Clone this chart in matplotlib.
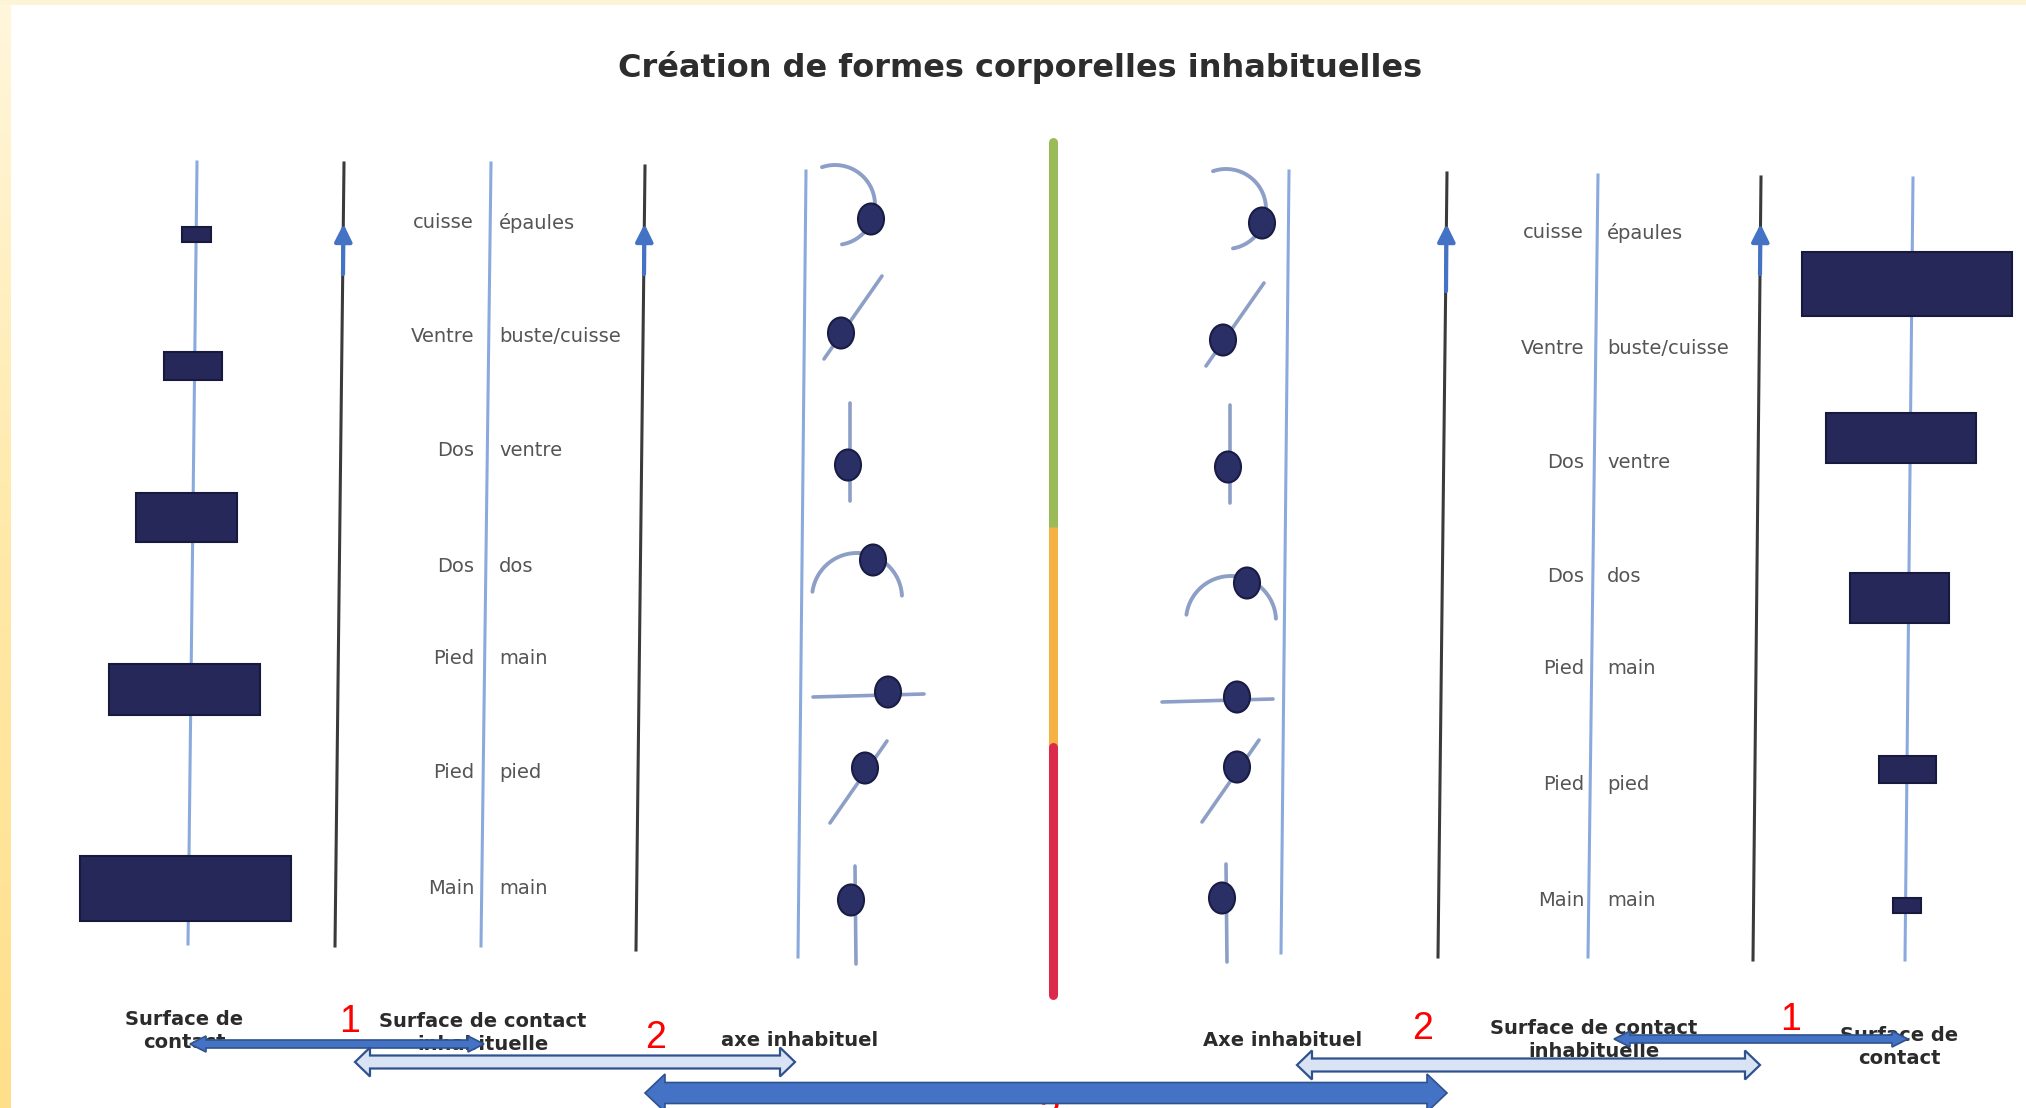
import numpy as np
import matplotlib

matplotlib.use("Agg")
import matplotlib.pyplot as plt
from matplotlib.patches import Rectangle, Ellipse, Polygon
from matplotlib.colors import LinearSegmentedColormap

W, H = 2026, 1108

TITLE = "Création de formes corporelles inhabituelles"

# body parts (left of the axis / right of the axis), same list on both sides
parts_left = ["cuisse", "Ventre", "Dos", "Dos", "Pied", "Pied", "Main"]
parts_right = ["épaules", "buste/cuisse", "ventre", "dos", "main", "pied", "main"]

# contact surfaces: rectangle width / height (px), growing on the left, shrinking on the right
surf_w_left = [29, 58, 101, 151, 211]
surf_h_left = [15, 28, 49, 51, 65]
surf_w_right = [210, 150, 99, 57, 28]
surf_h_right = [64, 50, 50, 27, 15]

# unusual axis pictograms, one per row
glyph_kinds = ["arc_side", "diag", "vert", "arc_top", "horiz", "diag2", "vert2"]

bottom_left = ["Surface de\ncontact", "Surface de contact\ninhabituelle", "axe inhabituel"]
bottom_right = ["Axe inhabituel", "Surface de contact\ninhabituelle", "Surface de\ncontact"]
step_nums = ["1", "2", "3"]

scale_colors = ["#9bbb59", "#f5b143", "#dc2a4c"]  # green / orange / red

# ---------------------------------------------------------------- layout
rows_left = [223, 336, 450, 566, 658, 773, 888]
rows_right = [233, 348, 463, 577, 669, 784, 900]
rect_y_left = [234, 366, 517, 689, 888]
rect_x_left = [196, 193, 186, 184, 185]
rect_y_right = [284, 438, 598, 769, 905]
rect_x_right = [1907, 1901, 1899, 1907, 1907]

dots_left = [(871, 219), (841, 333), (848, 465), (873, 560), (888, 692), (865, 768), (851, 900)]
dots_right = [(1262, 223), (1223, 340), (1228, 467), (1247, 583), (1237, 697), (1237, 767), (1222, 898)]

# stroke geometry relative to the dot
glyph_geom = {
    "arc_side": ("arc", (-36, -14), 40, -80, 109),
    "diag": ("line", (-17, 26), (41, -57)),
    "vert": ("line", (2, -62), (2, 36)),
    "arc_top": ("arc", (-16, 38), 45, 3, 172),
    "horiz": ("line", (-75, 5), (36, 2)),
    "diag2": ("line", (-35, 55), (22, -27)),
    "vert2": ("line", (4, -34), (5, 64)),
}

BLUE_AX = "#8aaade"
BLACK_AX = "#3a3a3a"
NAVY = "#252859"
DOT = "#2a3066"
GLYPH = "#8d9fc6"
ARROW = "#4472c4"
ARROW_EDGE = "#2f528f"
ARROW_LIGHT = "#dae3f3"
TXT = "#555555"

fig = plt.figure(figsize=(W / 100, H / 100), dpi=100)
fig.patch.set_facecolor("white")
ax = fig.add_axes([0, 0, 1, 1])
ax.set_xlim(0, W)
ax.set_ylim(H, 0)
ax.axis("off")

# cream frame of the slide
grad = LinearSegmentedColormap.from_list("cream", ["#fff6dc", "#ffe9a8", "#ffdf8a"])
ax.imshow(np.linspace(0, 1, 200).reshape(-1, 1), cmap=grad, extent=[0, 11, H, 0],
          aspect="auto", zorder=0)
ax.add_patch(Rectangle((0, 0), W, 5, color="#fdf3d6", lw=0, zorder=0))

ax.text(1020, 68, TITLE, ha="center", va="center", fontsize=23, fontweight="bold",
        color="#2d2d2d")

# vertical axes (slightly tilted, as on the scan)
blue_lines = [(197, 162, 188, 944), (491, 163, 481, 946), (806, 171, 798, 957),
              (1289, 171, 1281, 953), (1598, 175, 1588, 957), (1913, 178, 1905, 960)]
black_lines = [(344, 163, 335, 946), (645, 166, 636, 950),
               (1447, 173, 1438, 957), (1761, 177, 1753, 960)]
for x0, y0, x1, y1 in blue_lines:
    ax.plot([x0, x1], [y0, y1], color=BLUE_AX, lw=2.2, zorder=1)
for x0, y0, x1, y1 in black_lines:
    ax.plot([x0, x1], [y0, y1], color=BLACK_AX, lw=2.2, zorder=1)
for (x0, y0, x1, y1), tail in zip(black_lines, [274, 274, 291, 274]):
    ax.annotate("", xy=(x0 - 0.5, 224), xytext=(x0 - 1, tail),
                arrowprops=dict(arrowstyle="-|>", color=ARROW, lw=3, mutation_scale=26,
                                shrinkA=0, shrinkB=0), zorder=3)

# contact surface rectangles
for cx, cy, w, h in zip(rect_x_left, rect_y_left, surf_w_left, surf_h_left):
    ax.add_patch(Rectangle((cx - w / 2, cy - h / 2), w, h, fc=NAVY, ec="#17193d", lw=1.5, zorder=2))
for cx, cy, w, h in zip(rect_x_right, rect_y_right, surf_w_right, surf_h_right):
    ax.add_patch(Rectangle((cx - w / 2, cy - h / 2), w, h, fc=NAVY, ec="#17193d", lw=1.5, zorder=2))

# body part labels around the middle axis
for y, a, b in zip(rows_left, parts_left, parts_right):
    ax.text(474, y, a, ha="right", va="center", fontsize=14, color=TXT)
    ax.text(499, y, b, ha="left", va="center", fontsize=14, color=TXT)
for y, a, b in zip(rows_right, parts_left, parts_right):
    ax.text(1584, y, a, ha="right", va="center", fontsize=14, color=TXT)
    ax.text(1607, y, b, ha="left", va="center", fontsize=14, color=TXT)

# pictograms: a stroke with a dot
for dots in (dots_left, dots_right):
    for (dx, dy), kind in zip(dots, glyph_kinds):
        g = glyph_geom[kind]
        if g[0] == "arc":
            (ox, oy), r, t0, t1 = g[1], g[2], g[3], g[4]
            t = np.radians(np.linspace(t0, t1, 80))
            ax.plot(dx + ox + r * np.cos(t), dy + oy - r * np.sin(t), color=GLYPH,
                    lw=2.8, solid_capstyle="round", zorder=2)
        else:
            (ax0, ay0), (ax1, ay1) = g[1], g[2]
            ax.plot([dx + ax0, dx + ax1], [dy + ay0, dy + ay1], color=GLYPH, lw=2.6,
                    solid_capstyle="round", zorder=2)
        ax.add_patch(Ellipse((dx, dy), 26, 31, fc=DOT, ec="#191c44", lw=1.5, zorder=3))

# traffic light scale in the middle
scale_breaks = [142, 527, 747, 995]
for i, c in enumerate(scale_colors):
    ax.plot([1053, 1053], [scale_breaks[i], scale_breaks[i + 1]], color=c, lw=6.5,
            solid_capstyle="round" if i != 1 else "butt", zorder=2)

# bottom captions
for (x, y), s in zip([(184, 1031), (483, 1033), (800, 1040)], bottom_left):
    ax.text(x, y, s, ha="center", va="center", fontsize=14, fontweight="bold",
            color="#2b2b2b", linespacing=1.3, zorder=2)
for (x, y), s in zip([(1283, 1040), (1594, 1040), (1899, 1047)], bottom_right):
    ax.text(x, y, s, ha="center", va="center", fontsize=14, fontweight="bold",
            color="#2b2b2b", linespacing=1.3, zorder=2)

red_pos = [(350, 1022, "1"), (656, 1038, "2"), (1423, 1029, "2"), (1791, 1020, "1")]
for x, y, s in red_pos:
    ax.text(x, y, s, ha="center", va="center", fontsize=27, color="red",
            family="Liberation Sans", zorder=4)
# the "3" sits under the big arrow and is cut by the slide edge, as in the source
ax.text(1050, 1097, step_nums[2], ha="center", va="top", fontsize=27, color="red",
        family="Liberation Sans", zorder=4)


def double_arrow(x0, x1, y, shaft, head, hl, fc, ec, lw):
    pts = [(x0, y), (x0 + hl, y - head / 2), (x0 + hl, y - shaft / 2),
           (x1 - hl, y - shaft / 2), (x1 - hl, y - head / 2), (x1, y),
           (x1 - hl, y + head / 2), (x1 - hl, y + shaft / 2),
           (x0 + hl, y + shaft / 2), (x0 + hl, y + head / 2)]
    ax.add_patch(Polygon(pts, closed=True, fc=fc, ec=ec, lw=lw, zorder=5))


double_arrow(190, 484, 1044, 8, 16, 16, ARROW, ARROW_EDGE, 1.2)
double_arrow(355, 795, 1062, 13, 29, 15, ARROW_LIGHT, ARROW_EDGE, 1.6)
double_arrow(645, 1447, 1093, 21, 38, 20, ARROW, ARROW_EDGE, 1.2)
double_arrow(1297, 1760, 1065, 13, 29, 15, ARROW_LIGHT, ARROW_EDGE, 1.6)
double_arrow(1614, 1908, 1039, 8, 16, 16, ARROW, ARROW_EDGE, 1.2)

fig.savefig("out.png", dpi=100, facecolor=fig.get_facecolor())
